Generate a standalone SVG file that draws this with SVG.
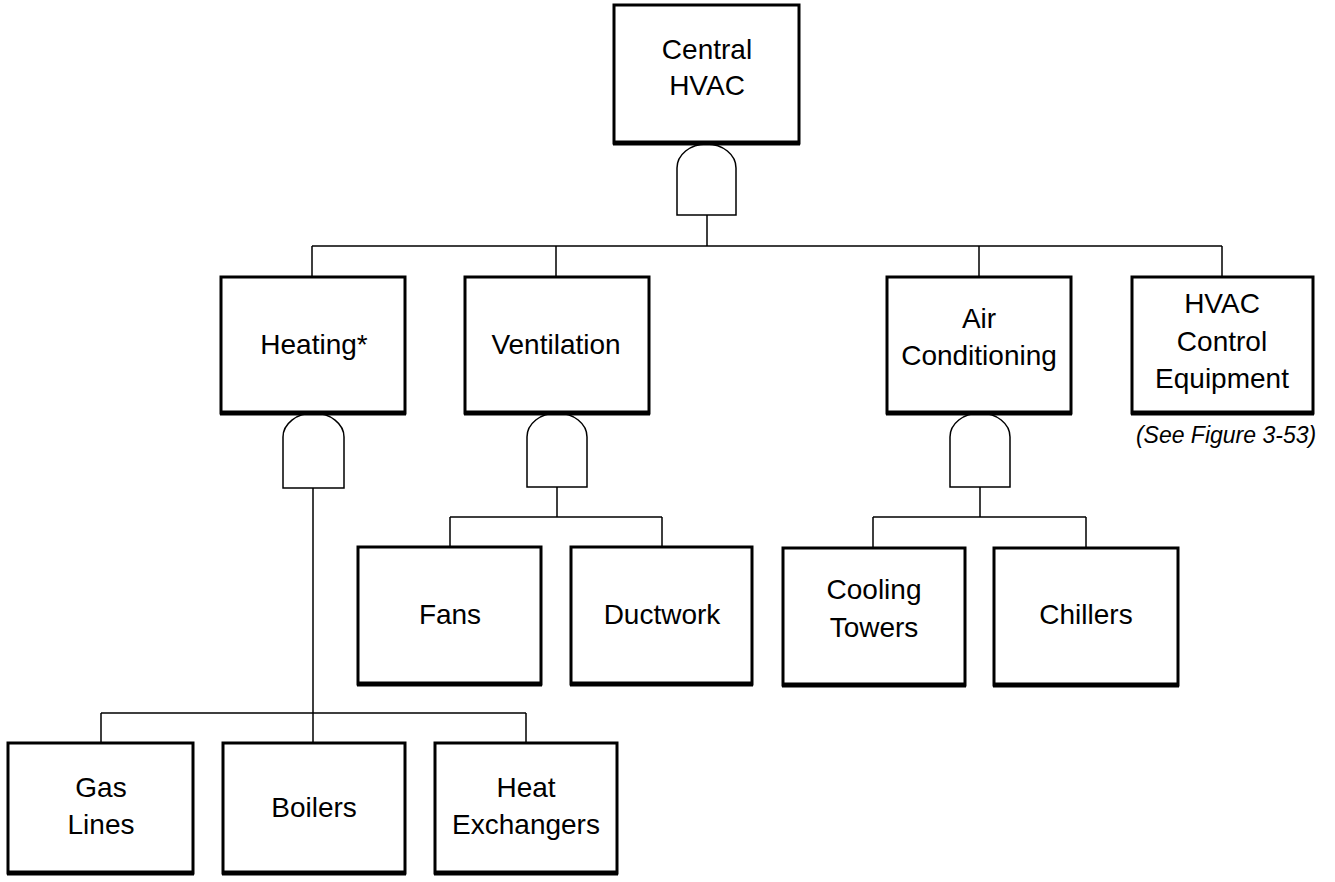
<svg xmlns="http://www.w3.org/2000/svg" width="1335" height="882" viewBox="0 0 1335 882">
<style>
.box{fill:#fff;stroke:#000;stroke-width:3}
.bt{stroke:#000;stroke-width:5}
.gate{fill:#fff;stroke:#000;stroke-width:1.5}
.ln{fill:none;stroke:#000;stroke-width:1.5}
text{font-family:"Liberation Sans",Arial,sans-serif;font-size:28px;fill:#000;text-anchor:middle}
.note{font-size:23px;font-style:italic}
</style>
<rect width="1335" height="882" fill="#fff"/>
<g id="connectors">
<path class="ln" d="M707,215 V246 M312,246 H1222 M312,246 V277 M556,246 V277 M979,246 V277 M1222,246 V277"/>
<path class="ln" d="M313,488 V743 M101,713 H526 M101,713 V743 M526,713 V743"/>
<path class="ln" d="M557,487 V517 M450,517 H662 M450,517 V547 M662,517 V547"/>
<path class="ln" d="M980,487 V517 M873,517 H1086 M873,517 V548 M1086,517 V548"/>
</g>
<g id="gates">
<path class="gate" d="M677,215 V168 A29.5,24 0 0 1 736,168 V215 Z"/>
<path class="gate" d="M283,488 V437 A30.5,24 0 0 1 344,437 V488 Z"/>
<path class="gate" d="M527,487 V437 A30,24 0 0 1 587,437 V487 Z"/>
<path class="gate" d="M950,487 V437 A30,24 0 0 1 1010,437 V487 Z"/>
</g>
<g id="central-hvac">
<rect class="box" x="614" y="5" width="185" height="138"/>
<line class="bt" x1="613" y1="143" x2="800" y2="143"/>
<text x="707" y="59">Central</text>
<text x="707" y="95">HVAC</text>
</g>
<g id="heating">
<rect class="box" x="221" y="277" width="184" height="136"/>
<line class="bt" x1="220" y1="413" x2="406" y2="413"/>
<text x="314" y="354">Heating*</text>
</g>
<g id="ventilation">
<rect class="box" x="465" y="277" width="184" height="136"/>
<line class="bt" x1="464" y1="413" x2="650" y2="413"/>
<text x="556" y="354">Ventilation</text>
</g>
<g id="air-conditioning">
<rect class="box" x="887" y="277" width="184" height="136"/>
<line class="bt" x1="886" y1="413" x2="1072" y2="413"/>
<text x="979" y="328">Air</text>
<text x="979" y="365">Conditioning</text>
</g>
<g id="hvac-control">
<rect class="box" x="1132" y="277" width="181" height="136"/>
<line class="bt" x1="1131" y1="413" x2="1314" y2="413"/>
<text x="1222" y="313">HVAC</text>
<text x="1222" y="351">Control</text>
<text x="1222" y="388">Equipment</text>
<text class="note" x="1226" y="443">(See Figure 3-53)</text>
</g>
<g id="fans">
<rect class="box" x="358" y="547" width="183" height="137"/>
<line class="bt" x1="357" y1="684" x2="542" y2="684"/>
<text x="450" y="624">Fans</text>
</g>
<g id="ductwork">
<rect class="box" x="571" y="547" width="181" height="137"/>
<line class="bt" x1="570" y1="684" x2="753" y2="684"/>
<text x="662" y="624">Ductwork</text>
</g>
<g id="cooling-towers">
<rect class="box" x="783" y="548" width="182" height="137"/>
<line class="bt" x1="782" y1="685" x2="966" y2="685"/>
<text x="874" y="599">Cooling</text>
<text x="874" y="637">Towers</text>
</g>
<g id="chillers">
<rect class="box" x="994" y="548" width="184" height="137"/>
<line class="bt" x1="993" y1="685" x2="1179" y2="685"/>
<text x="1086" y="624">Chillers</text>
</g>
<g id="gas-lines">
<rect class="box" x="8" y="743" width="185" height="130"/>
<line class="bt" x1="7" y1="873" x2="194" y2="873"/>
<text x="101" y="797">Gas</text>
<text x="101" y="834">Lines</text>
</g>
<g id="boilers">
<rect class="box" x="223" y="743" width="182" height="130"/>
<line class="bt" x1="222" y1="873" x2="406" y2="873"/>
<text x="314" y="817">Boilers</text>
</g>
<g id="heat-exchangers">
<rect class="box" x="435" y="743" width="182" height="130"/>
<line class="bt" x1="434" y1="873" x2="618" y2="873"/>
<text x="526" y="797">Heat</text>
<text x="526" y="834">Exchangers</text>
</g>
</svg>
